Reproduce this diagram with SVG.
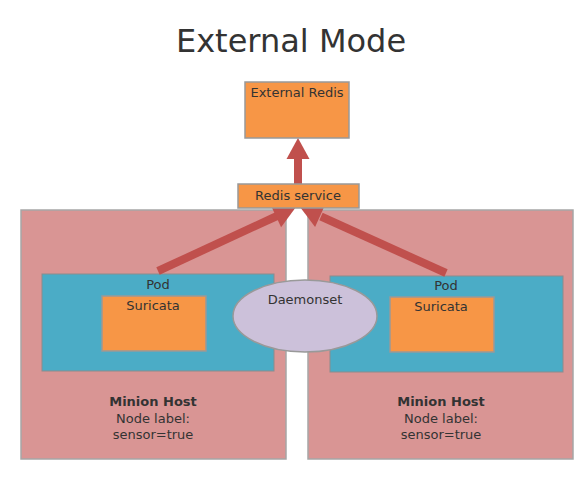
<svg xmlns="http://www.w3.org/2000/svg" width="587" height="477" viewBox="0 0 587 477">
<style>
text{font-family:"DejaVu Sans",Verdana,sans-serif;fill:#333;text-anchor:middle}
.host{fill:#d99594;stroke:#a6a6a6;stroke-width:1.5}
.pod{fill:#4bacc6;stroke:#8c8c8c;stroke-width:1}
.orange{fill:#f79646;stroke:#999;stroke-width:1.5}
.conn{stroke:#c0504d;stroke-width:8;fill:none}
.head{fill:#c0504d}
.t{font-size:13px}
</style>
<rect width="587" height="477" fill="#fff"/>
<text x="291" y="52" style="font-size:32px">External Mode</text>
<g id="host-left"><rect class="host" x="21" y="210" width="265" height="249"/>
<text x="153" y="406" class="t" style="font-weight:bold">Minion Host</text>
<text x="153" y="423" class="t">Node label:</text>
<text x="153" y="439" class="t">sensor=true</text></g>
<g id="host-right"><rect class="host" x="308" y="210" width="265" height="249"/>
<text x="441" y="406" class="t" style="font-weight:bold">Minion Host</text>
<text x="441" y="423" class="t">Node label:</text>
<text x="441" y="439" class="t">sensor=true</text></g>
<g id="pod-left"><rect class="pod" x="42" y="274" width="232" height="97"/>
<text x="158" y="289" class="t">Pod</text></g>
<g id="suricata-left"><rect class="orange" x="102" y="296" width="104" height="55"/>
<text x="153" y="310" class="t">Suricata</text></g>
<g id="pod-right"><rect class="pod" x="330" y="276" width="233" height="96"/>
<text x="446" y="290" class="t">Pod</text></g>
<g id="suricata-right"><rect class="orange" x="390" y="297" width="104" height="55"/>
<text x="441" y="311" class="t">Suricata</text></g>
<g id="daemonset"><ellipse cx="305" cy="316" rx="72" ry="36" fill="#ccc1da" stroke="#999" stroke-width="1.5"/>
<text x="305" y="304" class="t">Daemonset</text></g>
<g id="connectors">
<line class="conn" x1="298" y1="184" x2="298" y2="158"/>
<polygon class="head" points="298,138 309.5,159 286.5,159"/>
<line class="conn" x1="158" y1="271" x2="277" y2="216"/>
<polygon class="head" points="296,207 281.1,227.2 270.9,205.4"/>
<line class="conn" x1="446" y1="273" x2="321" y2="216.5"/>
<polygon class="head" points="300,207 324.9,205.2 315.1,227"/>
</g>
<g id="external-redis"><rect class="orange" x="245" y="82" width="104" height="56"/>
<text x="297" y="97" class="t">External Redis</text></g>
<g id="redis-service"><rect class="orange" x="238" y="184" width="121" height="24"/>
<text x="298" y="200" class="t">Redis service</text></g>
</svg>
